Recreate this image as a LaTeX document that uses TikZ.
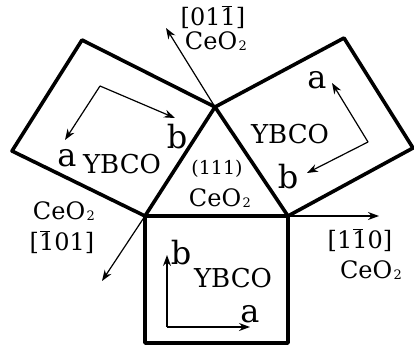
\documentclass[tikz,border=0pt]{standalone}
\usepackage{fontspec}
\setmainfont{DejaVu Serif}
\usetikzlibrary{arrows.meta}
\newcommand\myceo{CeO\kern1.5pt{\fontsize{13}{13}\selectfont\raisebox{-1.5pt}{2}}}
\newcommand\dz{\oldstylenums{0}}
\newcommand\du{\oldstylenums{1}}
\newcommand\bu{\leavevmode\rlap{\kern0.04em\raisebox{0.74em}{\rule{0.42em}{0.06em}}}\oldstylenums{1}}
\begin{document}
\begin{tikzpicture}[x=1pt,y=-1pt,
  edge/.style={line width=3.6pt,line join=round},
  vec/.style={line width=1.2pt,-{Stealth[length=11pt,width=8pt]}},
  lab/.style={inner sep=0pt,font=\fontsize{24}{24}\selectfont},
  small/.style={inner sep=0pt,font=\fontsize{19}{19}\selectfont},
  axl/.style={inner sep=0pt,font=\fontsize{32}{32}\selectfont},
  ybco/.style={inner sep=0pt,font=\fontsize{26}{26}\selectfont}]
\useasboundingbox (0,0) rectangle (414,347);
% vertices
\coordinate (T) at (215,107);
\coordinate (BL) at (145,216);
\coordinate (BR) at (288,216);
\coordinate (L1) at (82,40);
\coordinate (L2) at (12,151);
\coordinate (R1) at (344,38);
\coordinate (R2) at (413,148);
\coordinate (B3) at (288,343);
\coordinate (B4) at (145,343);
% outlines
\draw[edge] (T) -- (BL) -- (BR) -- cycle;
\draw[edge] (T) -- (L1) -- (L2) -- (BL);
\draw[edge] (T) -- (R1) -- (R2) -- (BR);
\draw[edge] (BL) -- (B4) -- (B3) -- (BR);
% CeO2 directions
\coordinate (D1) at (166,28);
\coordinate (D2) at (102,281);
\coordinate (D3) at (379,216);
\draw[vec] (T) -- (D1);
\draw[vec] (BL) -- (D2);
\draw[vec] (BR) -- (D3);
% YBCO axes
\coordinate (LC) at (100,86);
\coordinate (LB) at (175,118);
\coordinate (LA) at (65,140);
\draw[vec] (LC) -- (LB);
\draw[vec] (LC) -- (LA);
\coordinate (RC) at (368,142);
\coordinate (RA) at (332,83);
\coordinate (RB) at (307,173);
\draw[vec] (RC) -- (RA);
\draw[vec] (RC) -- (RB);
\coordinate (BC) at (167,327);
\coordinate (BB) at (167,255);
\coordinate (BA) at (250,327);
\draw[vec] (BC) -- (BB);
\draw[vec] (BC) -- (BA);
% labels
\node[lab] (t1) at (213,17) {[\dz\du\bu]};
\node[lab] (t2) at (216,41) {\myceo};
\node[lab] (l1) at (64,211) {\myceo};
\node[lab] (l2) at (62,242) {[\bu\dz\du]};
\node[lab] (r1) at (360,240) {[\du\bu\dz]};
\node[lab] (r2) at (371,270) {\myceo};
\node[small] (c1) at (217,169) {(\du\du\du)};
\node[lab] (c2) at (220,198) {\myceo};
\node[axl] (la) at (67,158) {a};
\node[ybco] (ly) at (122,164) {YBCO};
\node[axl] (lb) at (177,137) {b};
\node[axl] (ra) at (317,80) {a};
\node[ybco] (ry) at (290,134) {YBCO};
\node[axl] (rb) at (288,177) {b};
\node[axl] (bb) at (181,253) {b};
\node[ybco] (by) at (233,278) {YBCO};
\node[axl] (ba) at (250,314) {a};
\end{tikzpicture}
\end{document}
